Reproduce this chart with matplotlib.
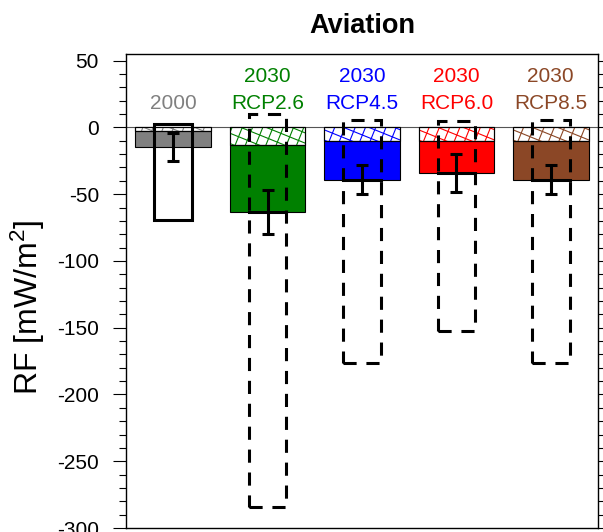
import numpy as np
import matplotlib
matplotlib.use('Agg')
import matplotlib.pyplot as plt
from matplotlib.patches import Rectangle
from matplotlib.collections import LineCollection
from matplotlib.ticker import MultipleLocator

plt.rcParams['font.family'] = ['Liberation Sans', 'DejaVu Sans']
plt.rcParams['mathtext.fontset'] = 'custom'
plt.rcParams['mathtext.rm'] = 'Liberation Sans'
plt.rcParams['mathtext.default'] = 'regular'
plt.rcParams['axes.unicode_minus'] = False

# ── data (mW/m2) ──────────────────────────────────────────────────────────────
years     = ['2000', '2030', '2030', '2030', '2030']
scenarios = ['', 'RCP2.6', 'RCP4.5', 'RCP6.0', 'RCP8.5']
colors    = ['#808080', '#008000', '#0000ff', '#ff0000', '#8b4726']
total_rf  = [-15, -63, -39, -34, -39]        # full bar
hatch_rf  = [-3, -13.5, -10, -10, -10]       # hatched upper part
err_rf    = [10.5, 16.5, 11, 14, 11]         # error bar half-width
range_lo  = [-69.5, -284.5, -176.5, -152.5, -176.5]
range_hi  = [2.5, 10, 5.5, 5, 5.5]

x = np.arange(1, len(years) + 1)
bar_w = 0.8
box_w = 0.4

fig = plt.figure(figsize=(6.03, 5.32), dpi=100)
ax = fig.add_axes([0.209, 0.0075, 0.7827, 0.891])
ax.set_xlim(0.5, 5.5)
ax.set_ylim(-300, 55)

# pixel size of one data unit, used for the rotated hatch
bb = ax.get_window_extent()
px_x = bb.width / 5.0
px_y = bb.height / 355.0


def rotated_hatch(clip, color, spacing=9.5, angle=22):
    """Cross hatch rotated by `angle` degrees, clipped to the bar patch."""
    x0, y0 = clip.get_x(), clip.get_y()
    w, h = clip.get_width(), clip.get_height()
    wp, hp = w * px_x, h * px_y
    diag = np.hypot(wp, hp)
    cx, cy = x0 + w / 2, y0 + h / 2
    segs = []
    for a in (-angle, 90 - angle):
        t = np.radians(a)
        d = np.array([np.cos(t), np.sin(t)])
        nrm = np.array([-d[1], d[0]])
        for k in np.arange(-diag, diag + spacing, spacing):
            p1 = nrm * k - d * diag
            p2 = nrm * k + d * diag
            segs.append([(cx + p1[0] / px_x, cy + p1[1] / px_y),
                         (cx + p2[0] / px_x, cy + p2[1] / px_y)])
    lc = LineCollection(segs, colors=color, linewidths=0.8, zorder=2)
    ax.add_collection(lc, autolim=False)
    lc.set_clip_path(clip)


ax.axhline(0, color='#555555', lw=0.8, zorder=1)

# solid part of bars
ax.bar(x, np.array(total_rf) - np.array(hatch_rf), bottom=hatch_rf, width=bar_w,
       color=colors, edgecolor='black', lw=0.8, zorder=2)
# hatched part (colored hatch on white)
hbars = ax.bar(x, hatch_rf, width=bar_w, color='white', edgecolor='black',
               lw=0.8, zorder=1.5)
for patch, c in zip(hbars, colors):
    rotated_hatch(patch, c)
ax.bar(x, hatch_rf, width=bar_w, fill=False, edgecolor='black', lw=0.8, zorder=2.5)

# error bars
ax.errorbar(x, total_rf, yerr=err_rf, fmt='none', ecolor='black', elinewidth=2.2,
            capsize=4.5, capthick=2.2, zorder=4)

# range boxes
for i, (xi, lo, hi) in enumerate(zip(x, range_lo, range_hi)):
    ls = '-' if i == 0 else (0, (4.3, 3.2))
    ax.add_patch(Rectangle((xi - box_w / 2, lo), box_w, hi - lo, fill=False,
                           edgecolor='black', lw=2.2, ls=ls, zorder=3))
    if i > 0:
        ax.plot([xi - box_w / 2, xi + box_w / 2], [total_rf[i]] * 2,
                color='black', lw=2.2, zorder=3)

# labels above bars
for xi, yr, sc, c in zip(x, years, scenarios, colors):
    if sc:
        ax.text(xi, 34, yr, color=c, fontsize=15, ha='center', va='baseline')
        ax.text(xi, 14, sc, color=c, fontsize=15, ha='center', va='baseline')
    else:
        ax.text(xi, 14, yr, color=c, fontsize=15, ha='center', va='baseline')

ax.set_xticks([])
ax.yaxis.set_major_locator(MultipleLocator(50))
ax.yaxis.set_minor_locator(MultipleLocator(10))
ax.tick_params(axis='y', which='both', direction='out', right=True, labelsize=15)
ax.tick_params(axis='y', which='major', length=9.5, width=0.8, pad=10)
ax.tick_params(axis='y', which='minor', length=5, width=0.8)
for sp in ax.spines.values():
    sp.set_linewidth(1.0)

ax.set_ylabel('RF [mW/m$^2$]', fontsize=23)
ax.yaxis.set_label_coords(-0.168, 0.465)
ax.set_title('Aviation', fontsize=19.5, fontweight='bold', pad=15)

fig.savefig('out.png', dpi=100)
